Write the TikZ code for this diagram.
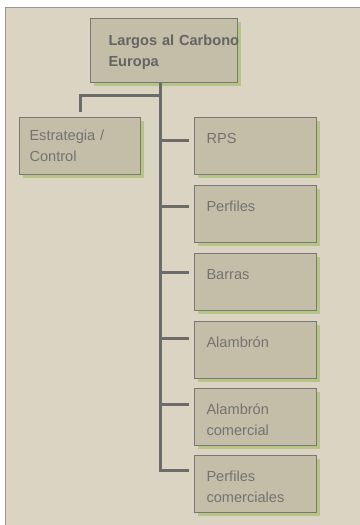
\documentclass[tikz,border=0pt]{standalone}
\usepackage{fontspec}
\setmainfont{Liberation Sans}
\usetikzlibrary{shadows}
\definecolor{panelbg}{RGB}{219,212,194}
\definecolor{panelline}{RGB}{150,150,150}
\definecolor{boxfill}{RGB}{196,189,167}
\definecolor{boxline}{RGB}{120,120,120}
\definecolor{boxshadow}{RGB}{182,196,132}
\definecolor{linkgray}{RGB}{107,107,107}
\definecolor{labelgray}{RGB}{115,115,115}
\definecolor{headgray}{RGB}{100,100,100}
\tikzset{
  unit/.style={draw=boxline, fill=boxfill, line width=1pt, anchor=north west,
    general shadow={fill=boxshadow, shadow xshift=3.5pt, shadow yshift=-3.5pt},
    text=labelgray, align=left, inner ysep=0pt,
    font=\fontsize{14.6}{21}\selectfont},
  head/.style={unit, text=headgray, font=\fontsize{14.6}{21}\selectfont\bfseries,
    text width=111pt, inner xsep=18pt, text height=27pt, text depth=37pt},
  side/.style={unit, text width=101pt, inner xsep=10pt, text height=23pt, text depth=34pt},
  leaf/.style={unit, text width=98pt, inner xsep=12pt, text height=26pt, text depth=31pt},
  link/.style={draw=linkgray, line width=3pt},
}
\begin{document}
\begin{tikzpicture}[x=1pt,y=-1pt]
\path[use as bounding box] (0,0) rectangle (359,525);
\fill[white] (0,0) rectangle (359,525);
\draw[panelline, line width=1.5pt, fill=panelbg] (5.5,7.5) rectangle (375,540);
% top of the tree
\node[head] (lce) at (90,18) {\mbox{Largos al Carbono}\\Europa};
\node[side] (strat) at (19,117) {Estrategia /\\Control};
% units under the trunk
\node[leaf] (rps) at (194,117) {RPS};
\node[leaf] (perf) at (194,185) {Perfiles};
\node[leaf] (barr) at (194,253) {Barras};
\node[leaf] (alam) at (194,321) {Alambrón};
\node[leaf] (alamc) at (194,388) {Alambrón\\comercial};
\node[leaf] (perfc) at (194,455) {Perfiles\\comerciales};
\coordinate (fork) at (160,95);
\draw[link] (lce.south -| fork) -- (fork) -| ([yshift=5pt]strat.north);
\foreach \n/\dy in {rps/23pt,perf/21pt,barr/19pt,alam/17pt,alamc/16pt,perfc/15pt}
  \draw[link] (fork) |- ([xshift=-5pt,yshift=-\dy]\n.north west);
\end{tikzpicture}
\end{document}
